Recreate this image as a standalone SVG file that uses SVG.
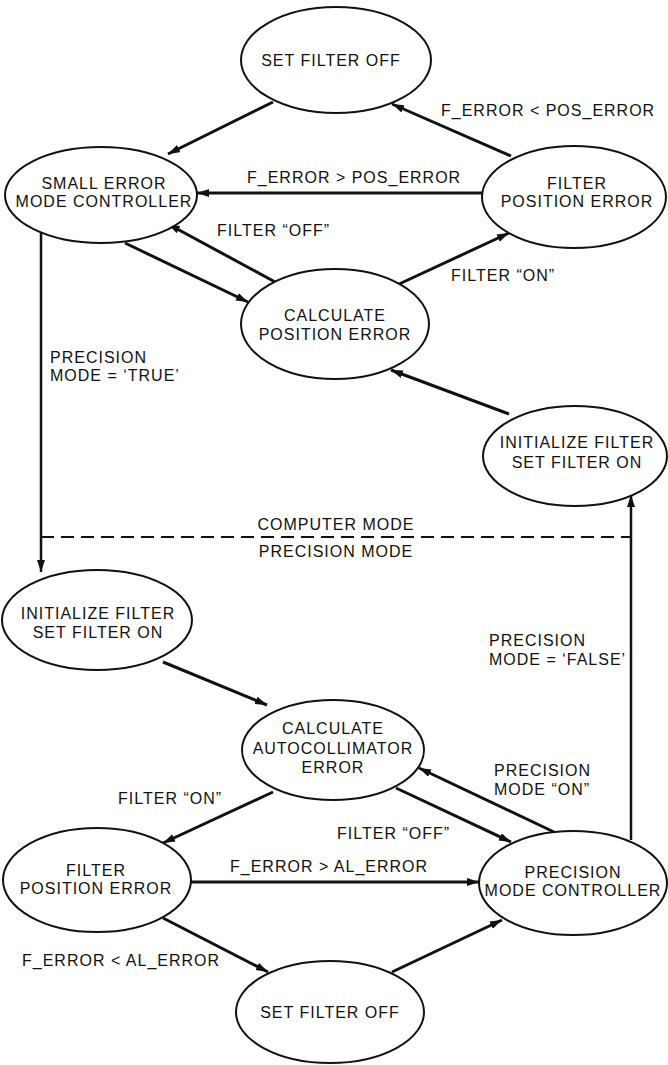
<svg xmlns="http://www.w3.org/2000/svg" width="668" height="1065" viewBox="0 0 668 1065">
<style>
.n ellipse{fill:#fff;stroke:#111;stroke-width:2}
text{font-family:"Liberation Sans",Arial,sans-serif;font-size:16px;letter-spacing:1px;fill:#111}
.n text{text-anchor:middle}
.c line{stroke:#111;stroke-width:3;fill:none}
.c line.a{marker-end:url(#ah)}
.c line.v{stroke-width:2.5}
.c line.d{stroke-width:2;stroke-dasharray:13 7}
.lm{text-anchor:middle}
</style>
<defs>
<marker id="ah" markerUnits="userSpaceOnUse" markerWidth="13" markerHeight="9" refX="12" refY="4" orient="auto">
<path d="M0,0 L12,4 L0,8 z" fill="#111"/>
</marker>
</defs>
<rect width="668" height="1065" fill="#fff"/>
<g class="c" id="connectors">
<line class="a" x1="273" y1="102" x2="168" y2="154"/>
<line class="a" x1="511" y1="156" x2="392" y2="104"/>
<line class="a" x1="484" y1="193" x2="197" y2="193"/>
<line class="a" x1="277" y1="283" x2="168" y2="224"/>
<line class="a" x1="125" y1="243" x2="248" y2="302"/>
<line class="a" x1="397" y1="285" x2="509" y2="233"/>
<line class="a" x1="509" y1="414" x2="391" y2="370"/>
<line class="a v" x1="41" y1="233" x2="41" y2="572"/>
<line class="a v" x1="631" y1="840" x2="631" y2="495"/>
<line class="d" x1="41" y1="537" x2="631" y2="537"/>
<line class="a" x1="163" y1="662" x2="267" y2="705"/>
<line class="a" x1="273" y1="792" x2="163" y2="843"/>
<line class="a" x1="396" y1="788" x2="511" y2="842"/>
<line class="a" x1="554" y1="832" x2="419" y2="768"/>
<line class="a" x1="190" y1="882" x2="479" y2="882"/>
<line class="a" x1="163" y1="918" x2="268" y2="972"/>
<line class="a" x1="392" y1="972" x2="502" y2="920"/>
</g>
<g id="labels">
<text x="441" y="116">F_ERROR &lt; POS_ERROR</text>
<text x="247" y="183">F_ERROR &gt; POS_ERROR</text>
<text x="217" y="236">FILTER “OFF”</text>
<text x="451" y="281">FILTER “ON”</text>
<text x="50" y="363">PRECISION</text>
<text x="50" y="381">MODE = ‘TRUE’</text>
<text class="lm" x="336" y="530">COMPUTER MODE</text>
<text class="lm" x="336" y="557">PRECISION MODE</text>
<text x="489" y="646">PRECISION</text>
<text x="489" y="665">MODE = ‘FALSE’</text>
<text x="494" y="776">PRECISION</text>
<text x="494" y="795">MODE “ON”</text>
<text x="118" y="804">FILTER “ON”</text>
<text x="337" y="839">FILTER “OFF”</text>
<text x="230" y="872">F_ERROR &gt; AL_ERROR</text>
<text x="22" y="966">F_ERROR &lt; AL_ERROR</text>
</g>
<g class="n" id="set-filter-off-top">
<ellipse cx="336" cy="60" rx="95" ry="53"/>
<text x="331" y="66">SET FILTER OFF</text>
</g>
<g class="n" id="small-error-mode-controller">
<ellipse cx="101" cy="195" rx="96" ry="48"/>
<text x="104" y="189">SMALL ERROR</text>
<text x="104" y="207">MODE CONTROLLER</text>
</g>
<g class="n" id="filter-position-error-top">
<ellipse cx="574" cy="197" rx="92" ry="51"/>
<text x="577" y="189">FILTER</text>
<text x="577" y="207">POSITION ERROR</text>
</g>
<g class="n" id="calculate-position-error">
<ellipse cx="335" cy="324" rx="94" ry="55"/>
<text x="335" y="321">CALCULATE</text>
<text x="335" y="340">POSITION ERROR</text>
</g>
<g class="n" id="initialize-filter-top">
<ellipse cx="575" cy="456" rx="92" ry="50"/>
<text x="577" y="448">INITIALIZE FILTER</text>
<text x="577" y="468">SET FILTER ON</text>
</g>
<g class="n" id="initialize-filter-bottom">
<ellipse cx="97" cy="620" rx="95" ry="50"/>
<text x="98" y="619">INITIALIZE FILTER</text>
<text x="98" y="638">SET FILTER ON</text>
</g>
<g class="n" id="calculate-autocollimator-error">
<ellipse cx="333" cy="750" rx="91" ry="50"/>
<text x="333" y="734">CALCULATE</text>
<text x="333" y="754">AUTOCOLLIMATOR</text>
<text x="333" y="773">ERROR</text>
</g>
<g class="n" id="filter-position-error-bottom">
<ellipse cx="97" cy="880" rx="94" ry="52"/>
<text x="96" y="876">FILTER</text>
<text x="96" y="894">POSITION ERROR</text>
</g>
<g class="n" id="precision-mode-controller">
<ellipse cx="573" cy="883" rx="94" ry="52"/>
<text x="573" y="878">PRECISION</text>
<text x="573" y="896">MODE CONTROLLER</text>
</g>
<g class="n" id="set-filter-off-bottom">
<ellipse cx="330" cy="1012" rx="94" ry="51"/>
<text x="330" y="1018">SET FILTER OFF</text>
</g>
</svg>
